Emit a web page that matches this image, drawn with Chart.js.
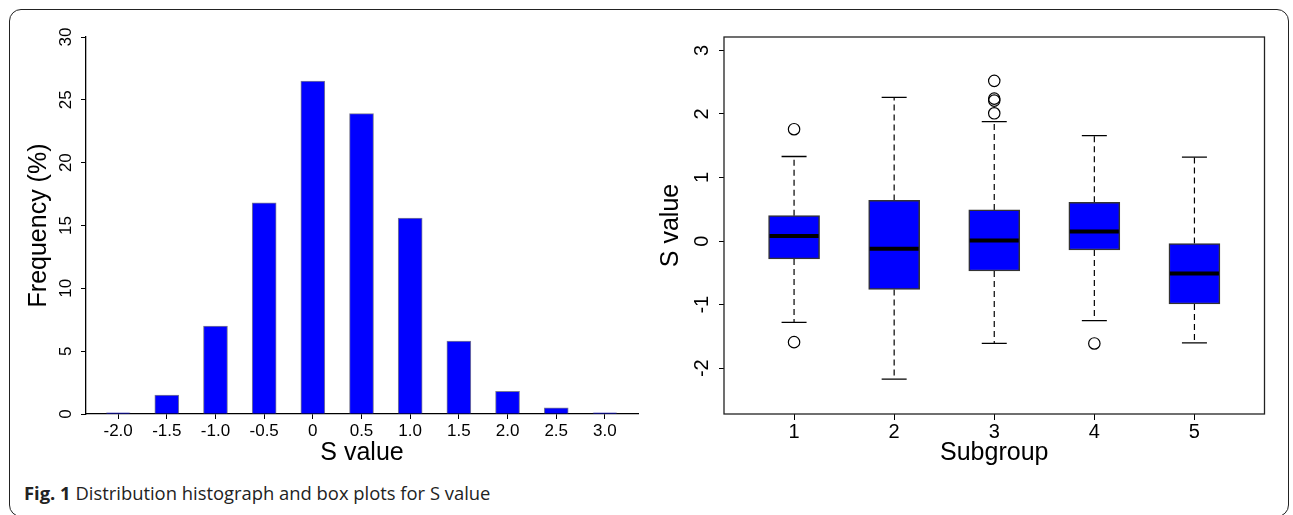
<!DOCTYPE html>
<html>
<head>
<meta charset="utf-8">
<script src="https://cdn.jsdelivr.net/npm/chart.js@4.4.1/dist/chart.umd.min.js"></script>
<style>
body { margin: 0; background: #fff; }
#wrap { position: relative; width: 1293px; height: 515px; overflow: hidden; background: #fff; }
#frame { position: absolute; left: 9px; top: 9px; width: 1280px; height: 508px; border: 1.5px solid #222; border-radius: 12px; box-sizing: border-box; }
#histWrap { position: absolute; left: 0; top: 0; width: 646px; height: 470px; }
#boxWrap { position: absolute; left: 646px; top: 0; width: 647px; height: 470px; }
#caption { position: absolute; left: 24px; top: 480px; font-family: "Open Sans", sans-serif; font-size: 18.4px; color: #222; white-space: nowrap; }
#caption b { font-weight: 700; }
</style>
</head>
<body>
<div id="wrap">
  <div id="frame"></div>
  <div id="histWrap"><canvas id="histChart"></canvas></div>
  <div id="boxWrap"><canvas id="boxChart"></canvas></div>
  <div id="caption"><b>Fig. 1</b> Distribution histograph and box plots for S value</div>
</div>
<script>
// histogram
const binCenters = [-2.0, -1.5, -1.0, -0.5, 0, 0.5, 1.0, 1.5, 2.0, 2.5, 3.0];
const binLabels = ['-2.0', '-1.5', '-1.0', '-0.5', '0', '0.5', '1.0', '1.5', '2.0', '2.5', '3.0'];
const frequency = [0.1, 1.5, 7.0, 16.8, 26.5, 23.9, 15.6, 5.8, 1.8, 0.5, 0.1];
const freqTicks = [0, 5, 10, 15, 20, 25, 30];

// box plots
const subgroups = [1, 2, 3, 4, 5];
const q1 = [-0.28, -0.76, -0.47, -0.14, -0.99];
const median = [0.08, -0.12, 0.01, 0.15, -0.51];
const q3 = [0.40, 0.64, 0.49, 0.61, -0.04];
const whiskerLow = [-1.28, -2.17, -1.61, -1.25, -1.60];
const whiskerHigh = [1.33, 2.26, 1.88, 1.66, 1.32];
const outlierGroup = [1, 1, 3, 3, 3, 3, 4];
const outlierValue = [1.76, -1.59, 2.52, 2.24, 2.21, 2.01, -1.61];
const sTicks = [-2, -1, 0, 1, 2, 3];

const AXIS_FONT = '"Liberation Sans", Arial, sans-serif';

// y tick labels in R are turned 90 degrees, Chart.js can't do that on a y axis
const rotatedYTicks = {
    id: 'rotatedYTicks',
    afterDraw(chart, args, opts) {
        const y = chart.scales.y;
        const ctx = chart.ctx;
        ctx.save();
        ctx.font = opts.size + 'px ' + AXIS_FONT;
        ctx.fillStyle = '#000';
        ctx.textAlign = 'center';
        ctx.textBaseline = 'middle';
        y.ticks.forEach(t => {
            ctx.save();
            ctx.translate(opts.x, y.getPixelForValue(t.value));
            ctx.rotate(-Math.PI / 2);
            ctx.fillText(String(t.value), 0, 0);
            ctx.restore();
        });
        ctx.restore();
    }
};

const plotFrame = {
    id: 'plotFrame',
    afterDraw(chart, args, opts) {
        if (!opts.show) return;
        const a = chart.chartArea;
        const ctx = chart.ctx;
        ctx.save();
        ctx.strokeStyle = '#222';
        ctx.lineWidth = 1.3;
        ctx.strokeRect(a.left, a.top, a.right - a.left, a.bottom - a.top);
        ctx.restore();
    }
};

function axisTitle(text, padding) {
    return { display: true, text: text, color: '#000', font: { family: AXIS_FONT, size: 25 }, padding: padding };
}

new Chart(document.getElementById('histChart'), {
    type: 'bar',
    data: {
        datasets: [{
            data: binCenters.map((x, i) => ({ x: x, y: frequency[i] })),
            backgroundColor: '#0000ff',
            borderColor: 'rgba(90,90,120,0.8)',
            borderWidth: 1,
            borderSkipped: 'bottom',
            barThickness: 24
        }]
    },
    plugins: [rotatedYTicks, plotFrame],
    options: {
        responsive: true,
        maintainAspectRatio: false,
        animation: false,
        layout: { padding: { left: 0, right: 8, top: 37, bottom: 0 } },
        plugins: {
            legend: { display: false },
            tooltip: { enabled: false },
            rotatedYTicks: { x: 66, size: 17 },
            plotFrame: { show: false }
        },
        scales: {
            x: {
                type: 'linear',
                offset: false,
                min: -2.33,
                max: 3.34,
                afterBuildTicks: s => { s.ticks = binCenters.map(v => ({ value: v })); },
                afterFit: s => { s.height = 56; },
                grid: { offset: false, drawOnChartArea: false, drawTicks: true, tickLength: 5, color: '#000' },
                border: { display: true, color: '#000', width: 1.3 },
                ticks: { color: '#000', font: { family: AXIS_FONT, size: 17 }, padding: 2, maxRotation: 0, callback: (v, i) => binLabels[i] },
                title: axisTitle('S value', { top: 0, bottom: 2 })
            },
            y: {
                min: 0,
                max: 30,
                afterBuildTicks: s => { s.ticks = freqTicks.map(v => ({ value: v })); },
                afterFit: s => { s.width = 86; },
                grid: { offset: false, drawOnChartArea: false, drawTicks: true, tickLength: 5, color: '#000' },
                border: { display: true, color: '#000', width: 1.3 },
                ticks: { display: false },
                title: axisTitle('Frequency (%)', { top: 24, bottom: 0 })
            }
        }
    }
});

const whiskerPoints = [];
subgroups.forEach((g, i) => {
    whiskerPoints.push({ x: g, y: q3[i] }, { x: g, y: whiskerHigh[i] }, { x: g, y: null });
    whiskerPoints.push({ x: g, y: q1[i] }, { x: g, y: whiskerLow[i] }, { x: g, y: null });
});
const capPoints = [];
subgroups.forEach((g, i) => {
    capPoints.push({ x: g, y: whiskerHigh[i] }, { x: g, y: whiskerLow[i] });
});

new Chart(document.getElementById('boxChart'), {
    type: 'bar',
    data: {
        datasets: [
            {
                type: 'line',
                data: whiskerPoints,
                borderColor: '#000',
                borderWidth: 1.2,
                borderDash: [6, 4],
                pointRadius: 0,
                spanGaps: false,
                fill: false,
                order: 5
            },
            {
                type: 'bar',
                data: subgroups.map((g, i) => ({ x: g, y: [q1[i], q3[i]] })),
                backgroundColor: '#0000ff',
                borderColor: '#333',
                borderWidth: 1.5,
                borderSkipped: false,
                barThickness: 51,
                order: 4
            },
            {
                type: 'scatter',
                data: subgroups.map((g, i) => ({ x: g, y: median[i] })),
                pointStyle: 'line',
                pointRadius: 24.5,
                borderColor: '#000',
                pointBorderWidth: 4,
                order: 1
            },
            {
                type: 'scatter',
                data: capPoints,
                pointStyle: 'line',
                pointRadius: 12.5,
                borderColor: '#000',
                pointBorderWidth: 1.3,
                order: 2
            },
            {
                type: 'scatter',
                data: outlierGroup.map((g, i) => ({ x: g, y: outlierValue[i] })),
                pointStyle: 'circle',
                pointRadius: 5.7,
                backgroundColor: 'rgba(0,0,0,0)',
                borderColor: '#000',
                pointBorderWidth: 1.2,
                order: 3
            }
        ]
    },
    plugins: [rotatedYTicks, plotFrame],
    options: {
        responsive: true,
        maintainAspectRatio: false,
        animation: false,
        layout: { padding: { left: 0, right: 20, top: 37, bottom: 0 } },
        plugins: {
            legend: { display: false },
            tooltip: { enabled: false },
            rotatedYTicks: { x: 56, size: 20 },
            plotFrame: { show: true }
        },
        scales: {
            x: {
                type: 'linear',
                offset: false,
                min: 0.3,
                max: 5.7,
                afterBuildTicks: s => { s.ticks = subgroups.map(v => ({ value: v })); },
                afterFit: s => { s.height = 56; },
                grid: { offset: false, drawOnChartArea: false, drawTicks: true, tickLength: 6, color: '#000' },
                border: { display: false },
                ticks: { color: '#000', font: { family: AXIS_FONT, size: 20 }, padding: 0, maxRotation: 0 },
                title: axisTitle('Subgroup', { top: 0, bottom: 2 })
            },
            y: {
                min: -2.72,
                max: 3.21,
                afterBuildTicks: s => { s.ticks = sTicks.map(v => ({ value: v })); },
                afterFit: s => { s.width = 78; },
                grid: { offset: false, drawOnChartArea: false, drawTicks: true, tickLength: 5, color: '#000' },
                border: { display: false },
                ticks: { display: false },
                title: axisTitle('S value', { top: 10, bottom: 0 })
            }
        }
    }
});
</script>
</body>
</html>
